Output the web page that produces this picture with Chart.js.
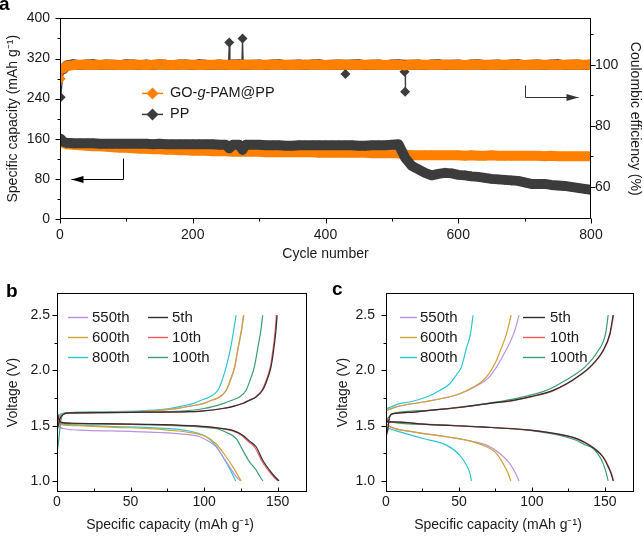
<!DOCTYPE html>
<html>
<head>
<meta charset="utf-8">
<script src="https://cdn.jsdelivr.net/npm/chart.js@4.4.1/dist/chart.umd.min.js"></script>
<style>
  body { margin: 0; background: #fff; }
  #wrap { position: relative; width: 643px; height: 539px; }
  canvas { position: absolute; }
</style>
</head>
<body>
<div id="wrap">
  <canvas id="chartA" width="643" height="270" style="left:0;top:0"></canvas>
  <canvas id="chartB" width="315" height="269" style="left:0;top:270px"></canvas>
  <canvas id="chartC" width="328" height="269" style="left:315px;top:270px"></canvas>
</div>
<script>
// ---- panel a : cycling data ----
const cycles = [1, 5, 10, 20, 30, 40, 50, 60, 70, 80,
  90, 100, 110, 120, 130, 140, 150, 160, 170, 180,
  190, 200, 210, 220, 230, 240, 250, 260, 270, 280,
  290, 300, 310, 320, 330, 340, 350, 360, 370, 380,
  390, 400, 410, 420, 430, 440, 450, 460, 470, 480,
  490, 500, 510, 520, 530, 540, 550, 560, 570, 580,
  590, 600, 610, 620, 630, 640, 650, 660, 670, 680,
  690, 700, 710, 720, 730, 740, 750, 760, 770, 780,
  790, 800];

const goCapacity = [158, 151, 149, 148, 147, 146, 145, 145, 144, 143,
  142, 142, 141, 140, 140, 139, 139, 138, 138, 137,
  137, 136, 136, 136, 135, 135, 135, 134, 134, 134,
  134, 134, 133, 133, 133, 133, 133, 133, 133, 133,
  132, 132, 132, 132, 132, 132, 132, 132, 131, 131,
  131, 131, 131, 128, 127, 127, 127, 127, 127, 127,
  127, 127, 126, 127, 126, 126, 127, 126, 126, 126,
  126, 126, 126, 126, 125, 126, 125, 125, 125, 125,
  125, 125];

const ppCapacity = [160, 154, 152, 151, 151, 151, 151, 150, 150, 150,
  150, 150, 150, 150, 150, 149, 150, 149, 149, 149,
  149, 149, 149, 149, 149, 148, 148, 148, 148, 148,
  148, 148, 147, 147, 147, 146, 146, 147, 147, 147,
  147, 147, 147, 147, 147, 147, 146, 146, 147, 147,
  147, 148, 149, 122, 106, 99, 92, 87, 90, 92,
  91, 88, 87, 85, 84, 82, 80, 79, 78, 77,
  76, 73, 70, 70, 70, 68, 67, 66, 64, 62,
  60, 58];

const goEfficiency = [95.4, 98.8, 99.6, 99.9, 100.0, 100.1, 99.9, 100.0, 100.1, 100.0,
  99.9, 100.0, 100.1, 100.0, 99.9, 100.0, 100.2, 100.0, 99.9, 100.0,
  100.1, 100.0, 99.9, 100.0, 100.0, 100.1, 100.0, 99.9, 100.0, 100.1,
  100.0, 99.9, 100.0, 100.1, 100.0, 100.0, 99.9, 100.0, 100.1, 100.0,
  100.0, 99.9, 100.0, 100.1, 100.0, 99.9, 100.0, 100.0, 100.1, 100.0,
  99.9, 100.0, 100.0, 99.8, 100.1, 100.0, 100.0, 99.9, 100.0, 100.1,
  100.0, 100.0, 99.9, 100.0, 100.1, 100.0, 99.9, 100.0, 100.0, 100.1,
  100.0, 99.9, 100.0, 100.1, 100.0, 100.0, 99.9, 100.0, 100.1, 100.0,
  100.0, 100.1];

const ppEfficiency = [89.4, 98.5, 99.8, 100.2, 99.9, 100.1, 100.2, 99.9, 100.1, 100.0,
  99.9, 100.2, 100.1, 99.9, 100.1, 99.9, 100.2, 100.0, 99.9, 100.1,
  100.1, 99.9, 100.2, 100.0, 99.9, 100.1, 99.9, 100.1, 100.2, 99.9,
  100.0, 100.1, 99.9, 100.1, 100.2, 99.9, 100.0, 100.1, 99.9, 100.1,
  100.2, 99.9, 100.0, 100.1, 99.9, 100.1, 100.2, 99.9, 100.0, 100.1,
  99.9, 100.1, 100.2, 99.9, 100.0, 100.1, 99.9, 100.1, 100.2, 99.9,
  100.0, 100.1, 99.9, 100.1, 100.2, 99.9, 100.0, 100.1, 99.9, 100.1,
  100.2, 99.9, 100.0, 100.1, 99.9, 100.1, 100.2, 99.9, 100.0, 100.1,
  99.9, 100.1];

// odd PP cycles (spikes / dips)
const ppDipCycles = [255, 275];
const ppDipCapacity = [141, 138];
const ppSpikeCycles = [254, 255, 256, 274, 275, 276, 429, 430, 431, 518, 519, 520, 521];
const ppSpikeEfficiency = [100, 107.3, 100, 100, 108.6, 100, 100, 97, 100, 100, 97.7, 91.2, 100];

const cycleTicks = [0, 200, 400, 600, 800];
const capacityTicks = [0, 80, 160, 240, 320, 400];
const efficiencyTicks = [60, 80, 100];

// ---- panel b : PP, [capacity, voltage] ----
const bCharge5th = [[0, 1.45], [2, 1.56], [4, 1.6], [8, 1.615], [30, 1.618], [60, 1.622], [90, 1.627], [98, 1.632], [112.8, 1.655], [120, 1.675], [126.3, 1.70], [131, 1.73], [135.4, 1.76], [139.8, 1.82], [142.5, 1.9], [145.5, 2.03], [147.3, 2.18], [148.8, 2.35], [149.7, 2.5]];
const bCharge10th = [[0, 1.5], [2, 1.57], [4, 1.6], [8, 1.615], [30, 1.618], [60, 1.622], [90, 1.627], [98, 1.632], [112.5, 1.655], [119.5, 1.675], [125.8, 1.70], [130.5, 1.73], [135, 1.76], [139.3, 1.82], [142, 1.9], [145, 2.03], [146.8, 2.18], [148.3, 2.35], [149.2, 2.5]];
const bCharge100th = [[0, 1.25], [1, 1.35], [3, 1.57], [6, 1.61], [30, 1.617], [60, 1.622], [85, 1.632], [100, 1.655], [112.8, 1.70], [119, 1.73], [124, 1.76], [128.6, 1.82], [131.5, 1.92], [134.2, 2.03], [136.5, 2.2], [138.5, 2.35], [139.9, 2.5]];
const bCharge550th = [[0, 1.5], [2, 1.58], [5, 1.61], [30, 1.62], [60, 1.63], [81, 1.655], [92, 1.68], [99.5, 1.70], [105.2, 1.73], [110.7, 1.76], [115.2, 1.82], [118.2, 1.92], [120.9, 2.03], [123.2, 2.2], [125.4, 2.35], [127, 2.5]];
const bCharge600th = [[0, 1.5], [2, 1.58], [5, 1.61], [30, 1.62], [60, 1.63], [81, 1.655], [92, 1.68], [99.3, 1.70], [105, 1.73], [110.5, 1.76], [115, 1.82], [118, 1.92], [120.7, 2.03], [123, 2.2], [125.2, 2.35], [126.8, 2.5]];
const bCharge800th = [[0, 1.55], [2, 1.6], [5, 1.615], [30, 1.625], [60, 1.637], [76.6, 1.655], [86, 1.68], [92.5, 1.70], [98, 1.73], [103.7, 1.76], [109.4, 1.82], [112, 1.9], [115, 2.03], [118, 2.2], [120, 2.35], [121.8, 2.5]];

const bDischarge5th = [[0, 1.63], [1, 1.57], [3, 1.53], [10, 1.522], [30, 1.518], [60, 1.512], [90, 1.50], [105, 1.487], [112.8, 1.474], [120, 1.455], [126.3, 1.414], [131, 1.36], [135.4, 1.309], [139.8, 1.19], [144.4, 1.10], [148, 1.04], [151, 1.0]];
const bDischarge10th = [[0, 1.64], [1, 1.56], [3, 1.52], [10, 1.52], [30, 1.517], [60, 1.51], [90, 1.498], [105, 1.485], [112.5, 1.472], [119.5, 1.452], [125.6, 1.41], [130.3, 1.355], [134.7, 1.30], [139.1, 1.185], [143.7, 1.095], [147.2, 1.04], [150.2, 1.0]];
const bDischarge100th = [[0, 1.62], [2, 1.53], [5, 1.52], [30, 1.515], [60, 1.51], [90, 1.495], [100, 1.485], [108.2, 1.474], [115, 1.44], [121.8, 1.384], [126.3, 1.279], [130.8, 1.174], [135.4, 1.099], [138, 1.04], [140, 1.0]];
const bDischarge550th = [[0, 1.55], [2, 1.49], [5, 1.472], [20, 1.458], [50, 1.448], [70, 1.438], [85, 1.424], [97, 1.40], [103.7, 1.354], [108.2, 1.309], [112.8, 1.219], [117.3, 1.129], [121.8, 1.039], [124.8, 1.0]];
const bDischarge600th = [[0, 1.6], [2, 1.52], [5, 1.505], [14, 1.50], [40, 1.485], [63, 1.474], [80, 1.455], [90, 1.44], [101.5, 1.40], [108, 1.339], [115, 1.219], [119.5, 1.129], [125.2, 1.0]];
const bDischarge800th = [[0, 1.58], [2, 1.52], [5, 1.512], [14, 1.506], [40, 1.492], [63, 1.482], [90, 1.452], [101.5, 1.40], [108, 1.32], [112.8, 1.22], [117.3, 1.114], [121.5, 1.0]];

// ---- panel c : GO-g-PAM@PP, [capacity, voltage] ----
const cCharge5th = [[0, 1.42], [1, 1.45], [2.5, 1.58], [4.8, 1.609], [15, 1.62], [30, 1.639], [52.8, 1.669], [70, 1.70], [87.1, 1.729], [100, 1.765], [114.5, 1.819], [123.7, 1.879], [132, 1.95], [139.7, 2.03], [148.8, 2.18], [153.4, 2.33], [155.7, 2.5]];
const cCharge10th = [[0, 1.40], [1, 1.44], [2.5, 1.58], [4.8, 1.609], [15, 1.62], [30, 1.638], [52.8, 1.668], [70, 1.698], [87.1, 1.727], [100, 1.762], [114.5, 1.815], [124, 1.876], [132.3, 1.948], [140, 2.03], [149.1, 2.18], [153.7, 2.33], [156, 2.5]];
const cCharge100th = [[0, 1.55], [2, 1.58], [4.8, 1.609], [30, 1.639], [52.8, 1.672], [85, 1.735], [110, 1.819], [119, 1.879], [128, 1.95], [136.3, 2.03], [145.5, 2.18], [150.5, 2.33], [152.3, 2.5]];
const cCharge550th = [[0, 1.635], [7, 1.67], [25.4, 1.714], [40, 1.75], [50.5, 1.789], [62, 1.86], [70, 1.93], [75.7, 2.03], [80.5, 2.14], [84.5, 2.24], [88.3, 2.36], [91.2, 2.5]];
const cCharge600th = [[0, 1.635], [7, 1.67], [25.4, 1.714], [40, 1.75], [50.5, 1.789], [60, 1.85], [66.5, 1.909], [71.1, 1.98], [75.7, 2.09], [79, 2.2], [82.6, 2.33], [85.8, 2.5]];
const cCharge800th = [[0, 1.65], [9.4, 1.70], [16.3, 1.714], [27.7, 1.759], [36.8, 1.819], [43.7, 1.879], [48.3, 1.96], [51.7, 2.03], [55.1, 2.2], [57.9, 2.33], [59.7, 2.5]];

const cDischarge5th = [[0, 1.56], [1.5, 1.53], [3, 1.534], [30, 1.51], [64.3, 1.489], [98.6, 1.459], [121.4, 1.414], [130, 1.385], [137.4, 1.339], [142, 1.30], [146.6, 1.249], [150, 1.19], [152.3, 1.129], [154.5, 1.06], [155.7, 1.0]];
const cDischarge10th = [[0, 1.58], [1.5, 1.53], [3, 1.534], [30, 1.511], [64.3, 1.49], [98.6, 1.46], [121.4, 1.416], [130.2, 1.387], [137.6, 1.341], [142.3, 1.30], [146.9, 1.249], [150.3, 1.19], [152.6, 1.129], [154.8, 1.06], [156, 1.0]];
const cDischarge100th = [[0, 1.57], [3, 1.534], [30, 1.51], [64.3, 1.489], [98.6, 1.457], [120, 1.41], [130, 1.37], [136, 1.33], [142, 1.294], [145.5, 1.24], [148.8, 1.159], [151, 1.07], [152.3, 1.0]];
const cDischarge550th = [[0, 1.52], [3, 1.489], [18.5, 1.444], [41.4, 1.40], [59.7, 1.357], [68.9, 1.324], [78, 1.249], [84.8, 1.159], [89.4, 1.054], [91.2, 1.0]];
const cDischarge600th = [[0, 1.52], [3, 1.489], [18.5, 1.444], [41.4, 1.40], [59.7, 1.354], [68.9, 1.309], [75.7, 1.249], [80.2, 1.159], [83.7, 1.069], [85.5, 1.0]];
const cDischarge800th = [[0, 1.49], [3, 1.47], [9.4, 1.444], [25.4, 1.384], [41.4, 1.324], [50.5, 1.234], [55.1, 1.144], [57.5, 1.07], [58.6, 1.0]];

const capTicks = [0, 50, 100, 150];
const voltTicks = [1.0, 1.5, 2.0, 2.5];
const cycleNames = ['550th', '600th', '800th', '5th', '10th', '100th'];

// ---- styles ----
const FONT = "'Liberation Sans', Arial, Helvetica, sans-serif";
const ORANGE = '#ff8000';
const DARK = '#3c3c3c';
const cycleColors = {
  '550th': '#b893e2', '600th': '#d2a330', '800th': '#2fc6d2',
  '5th': '#2e2e2e', '10th': '#ec5a5e', '100th': '#3b9f72'
};

Chart.defaults.font.family = FONT;
Chart.defaults.font.size = 14;
Chart.defaults.color = '#1a1a1a';

// box, hand-made tick marks, labels and other bits drawn on top
const decor = {
  id: 'decor',
  afterDraw(chart, args, opts) {
    const ctx = chart.ctx, a = chart.chartArea;
    ctx.save();
    ctx.strokeStyle = '#000';
    ctx.lineWidth = 1;
    const L = Math.round(a.left) + 0.5, T = Math.round(a.top) + 0.5;
    const R = Math.round(a.right) - 0.5, B = Math.round(a.bottom) - 0.5;
    ctx.strokeRect(L, T, R - L, B - T);
    (opts.ticks || []).forEach(t => {
      const s = chart.scales[t.scale];
      t.values.forEach(v => {
        const p = Math.round(s.getPixelForValue(v)) + 0.5;
        ctx.beginPath();
        if (s.isHorizontal()) { ctx.moveTo(p, B); ctx.lineTo(p, B + t.len * t.dir); }
        else if (s.position === 'left') { ctx.moveTo(L, p); ctx.lineTo(L - t.len * t.dir, p); }
        else { ctx.moveTo(R, p); ctx.lineTo(R + t.len * t.dir, p); }
        ctx.stroke();
      });
    });
    if (opts.tag) {
      ctx.fillStyle = '#000';
      ctx.font = 'bold 19px ' + FONT;
      ctx.textBaseline = 'alphabetic';
      ctx.fillText(opts.tag.text, opts.tag.x, opts.tag.y);
    }
    if (opts.xTitle) {
      ctx.fillStyle = '#1a1a1a';
      ctx.font = '14px ' + FONT;
      ctx.textAlign = 'center';
      ctx.textBaseline = 'middle';
      ctx.fillText(opts.xTitle.text, (a.left + a.right) / 2 + opts.xTitle.dx, chart.height - opts.xTitle.fromBottom);
      ctx.textAlign = 'left';
    }
    if (opts.extra) opts.extra(chart, ctx, a);
    ctx.restore();
  }
};
Chart.register(decor);

function fixedTicks(values) {
  return scale => { scale.ticks = values.map(v => ({ value: v })); };
}

function arrow(ctx, pts, color) {
  ctx.strokeStyle = color;
  ctx.fillStyle = color;
  ctx.lineWidth = 1;
  ctx.beginPath();
  ctx.moveTo(pts[0][0], pts[0][1]);
  for (let i = 1; i < pts.length; i++) ctx.lineTo(pts[i][0], pts[i][1]);
  ctx.stroke();
  const [tx, ty] = pts[pts.length - 1];
  const dir = Math.sign(tx - pts[pts.length - 2][0]);
  ctx.beginPath();
  ctx.moveTo(tx, ty);
  ctx.lineTo(tx - dir * 12, ty - 3.5);
  ctx.lineTo(tx - dir * 12, ty + 3.5);
  ctx.closePath();
  ctx.fill();
}

function toPoints(xs, ys, extraX = [], extraY = []) {
  const pts = xs.map((x, i) => ({ x: x, y: ys[i] }));
  extraX.forEach((x, i) => pts.push({ x: x, y: extraY[i] }));
  return pts.sort((p, q) => p.x - q.x);
}

// thick "band" between neighbouring cycles, thin stroke where the value jumps
function bandWidth(ctx) {
  const dx = Math.abs(ctx.p1.x - ctx.p0.x), dy = Math.abs(ctx.p1.y - ctx.p0.y);
  return dy > 3 * Math.max(dx, 0.5) ? 1.3 : 10;
}

function markerSet(label, data, color, axis, order) {
  return {
    label: label, data: data, yAxisID: axis, order: order,
    borderColor: color, backgroundColor: color, borderWidth: 10,
    borderJoinStyle: 'round', borderCapStyle: 'round',
    segment: { borderWidth: bandWidth },
    pointStyle: 'rectRot', pointRadius: 5, pointBorderWidth: 0,
    pointBackgroundColor: color, pointHoverRadius: 5
  };
}

// ---------------- panel a ----------------
const arrowCapacity = [[95, 121], [95, 80], [17, 80]];
const arrowEfficiency = [[700, 93.3], [700, 89.4], [781, 89.4]];

new Chart(document.getElementById('chartA'), {
  type: 'line',
  data: {
    datasets: [
      markerSet('GO-g-PAM@PP CE', toPoints(cycles, goEfficiency), ORANGE, 'yCE', 0),
      markerSet('PP capacity', toPoints(cycles, ppCapacity, ppDipCycles, ppDipCapacity), DARK, 'yCap', 1),
      markerSet('PP CE', toPoints(cycles, ppEfficiency, ppSpikeCycles, ppSpikeEfficiency), DARK, 'yCE', 2),
      markerSet('GO-g-PAM@PP capacity', toPoints(cycles, goCapacity), ORANGE, 'yCap', 3)
    ]
  },
  options: {
    responsive: false, animation: false, events: [],
    layout: { autoPadding: false, padding: { top: 13, left: 0, right: 0, bottom: 0 } },
    plugins: {
      legend: { display: false }, tooltip: { enabled: false },
      decor: {
        tag: { text: 'a', x: -1, y: 10 },
        ticks: [
          { scale: 'x', values: cycleTicks, len: 5, dir: 1 },
          { scale: 'x', values: [100, 300, 500, 700], len: 3, dir: 1 },
          { scale: 'yCap', values: capacityTicks, len: 5, dir: 1 },
          { scale: 'yCap', values: [40, 120, 200, 280, 360], len: 3, dir: 1 },
          { scale: 'yCE', values: efficiencyTicks, len: 5, dir: 1 },
          { scale: 'yCE', values: [70, 90, 110], len: 3, dir: 1 }
        ],
        extra(chart, ctx, a) {
          const x = chart.scales.x, yc = chart.scales.yCap, ye = chart.scales.yCE;
          arrow(ctx, arrowCapacity.map(p => [Math.round(x.getPixelForValue(p[0])) + 0.5, Math.round(yc.getPixelForValue(p[1])) + 0.5]), '#000');
          arrow(ctx, arrowEfficiency.map(p => [Math.round(x.getPixelForValue(p[0])) + 0.5, Math.round(ye.getPixelForValue(p[1])) + 0.5]), '#333');
          // legend
          const rows = [
            { color: ORANGE, parts: [['GO-', ''], ['g', 'italic '], ['-PAM@PP', '']] },
            { color: DARK, parts: [['PP', '']] }
          ];
          rows.forEach((r, i) => {
            const y = a.top + 75 + i * 21;
            ctx.strokeStyle = r.color; ctx.fillStyle = r.color; ctx.lineWidth = 1.5;
            ctx.beginPath(); ctx.moveTo(a.left + 82, y); ctx.lineTo(a.left + 103, y); ctx.stroke();
            const cx = a.left + 92.5;
            ctx.beginPath();
            ctx.moveTo(cx, y - 6); ctx.lineTo(cx + 6, y); ctx.lineTo(cx, y + 6); ctx.lineTo(cx - 6, y);
            ctx.closePath(); ctx.fill();
            ctx.fillStyle = '#1a1a1a';
            ctx.textBaseline = 'middle';
            let tx = a.left + 110;
            r.parts.forEach(([s, st]) => {
              ctx.font = st + '14.5px ' + FONT;
              ctx.fillText(s, tx, y);
              tx += ctx.measureText(s).width;
            });
          });
        }
      }
    },
    scales: {
      x: {
        type: 'linear', min: 0, max: 800,
        afterBuildTicks: fixedTicks(cycleTicks),
        afterFit(s) { s.height = 51; },
        grid: { display: false, drawTicks: false, tickLength: 0 }, border: { display: false },
        ticks: { padding: 8, maxRotation: 0 },
        title: { display: true, text: 'Cycle number', padding: { top: 0, bottom: 7.6 } }
      },
      yCap: {
        position: 'left', min: 0, max: 400,
        afterBuildTicks: fixedTicks(capacityTicks),
        afterFit(s) { s.width = 60; },
        grid: { display: false, drawTicks: false, tickLength: 0 }, border: { display: false },
        ticks: { padding: 10 },
        title: { display: true, text: 'Specific capacity (mAh g\u207B\u00B9)', padding: { top: 4.6, bottom: 0 } }
      },
      yCE: {
        position: 'right', min: 49.5, max: 115.2,
        afterBuildTicks: fixedTicks(efficiencyTicks),
        afterFit(s) { s.width = 52; },
        grid: { display: false, drawTicks: false, tickLength: 0 }, border: { display: false },
        ticks: { padding: 4 },
        title: { display: true, text: 'Coulombic efficiency (%)', padding: { top: 0, bottom: 0 } }
      }
    }
  }
});

// ---------------- panels b and c ----------------
function voltageChart(id, curves, cfg) {
  const datasets = [];
  const drawOrder = ['800th', '550th', '600th', '100th', '10th', '5th'];
  drawOrder.forEach((name, k) => {
    const c = curves[name];
    [c.charge, c.discharge].forEach(arr => {
      datasets.push({
        label: name, data: arr.map(p => ({ x: p[0], y: p[1] })),
        showLine: true, borderColor: cycleColors[name], borderWidth: 1.2,
        pointRadius: 0, cubicInterpolationMode: 'monotone', order: 10 - k
      });
    });
  });
  return new Chart(document.getElementById(id), {
    type: 'scatter',
    data: { datasets: datasets },
    options: {
      responsive: false, animation: false, events: [],
      layout: { autoPadding: false, padding: { top: 23, left: 0, right: cfg.rightPad, bottom: 0 } },
      plugins: {
        legend: { display: false }, tooltip: { enabled: false },
        decor: {
          tag: cfg.tag,
          xTitle: { text: 'Specific capacity (mAh g\u207B\u00B9)', dx: -12, fromBottom: 14 },
          ticks: [
            { scale: 'x', values: capTicks, len: 4, dir: -1 },
            { scale: 'x', values: [25, 75, 125], len: 3, dir: -1 },
            { scale: 'y', values: voltTicks, len: 5, dir: 1 },
            { scale: 'y', values: [1.25, 1.75, 2.25], len: 3, dir: 1 }
          ],
          extra(chart, ctx, a) {
            cycleNames.forEach((name, i) => {
              const col = i < 3 ? cfg.legend[0] : cfg.legend[1];
              const y = Math.round(a.top + [24, 44, 63.5][i % 3]) + 0.5;
              ctx.strokeStyle = cycleColors[name]; ctx.lineWidth = 1.4;
              ctx.beginPath(); ctx.moveTo(a.left + col.x0, y); ctx.lineTo(a.left + col.x1, y); ctx.stroke();
              ctx.fillStyle = '#1a1a1a';
              ctx.font = '15px ' + FONT;
              ctx.textBaseline = 'middle';
              ctx.fillText(name, a.left + col.tx, y);
            });
          }
        }
      },
      scales: {
        x: {
          type: 'linear', min: 0, max: 170,
          afterBuildTicks: fixedTicks(capTicks),
          afterFit(s) { s.height = 47; },
          grid: { display: false, drawTicks: false, tickLength: 0 }, border: { display: false },
          ticks: { padding: 2, maxRotation: 0 },
          title: { display: false }
        },
        y: {
          type: 'linear', min: 0.9, max: 2.7,
          afterBuildTicks: fixedTicks(voltTicks),
          afterFit(s) { s.width = cfg.yWidth; },
          grid: { display: false, drawTicks: false, tickLength: 0 }, border: { display: false },
          ticks: { padding: cfg.yTickPad, callback: v => v.toFixed(1) },
          title: { display: true, text: 'Voltage (V)', padding: { top: cfg.yTitlePad, bottom: 0 } }
        }
      }
    }
  });
}

voltageChart('chartB', {
  '550th': { charge: bCharge550th, discharge: bDischarge550th },
  '600th': { charge: bCharge600th, discharge: bDischarge600th },
  '800th': { charge: bCharge800th, discharge: bDischarge800th },
  '5th': { charge: bCharge5th, discharge: bDischarge5th },
  '10th': { charge: bCharge10th, discharge: bDischarge10th },
  '100th': { charge: bCharge100th, discharge: bDischarge100th }
}, {
  tag: { text: 'b', x: 6, y: 27 }, rightPad: 8, yWidth: 57, yTickPad: 7, yTitlePad: 4.6,
  legend: [{ x0: 11, x1: 31, tx: 35 }, { x0: 91, x1: 111, tx: 115 }]
});

voltageChart('chartC', {
  '550th': { charge: cCharge550th, discharge: cDischarge550th },
  '600th': { charge: cCharge600th, discharge: cDischarge600th },
  '800th': { charge: cCharge800th, discharge: cDischarge800th },
  '5th': { charge: cCharge5th, discharge: cDischarge5th },
  '10th': { charge: cCharge10th, discharge: cDischarge10th },
  '100th': { charge: cCharge100th, discharge: cDischarge100th }
}, {
  tag: { text: 'c', x: 17, y: 25 }, rightPad: 9, yWidth: 71, yTickPad: 11, yTitlePad: 19.6,
  legend: [{ x0: 14, x1: 31, tx: 34 }, { x0: 137, x1: 159, tx: 164 }]
});
</script>
</body>
</html>
